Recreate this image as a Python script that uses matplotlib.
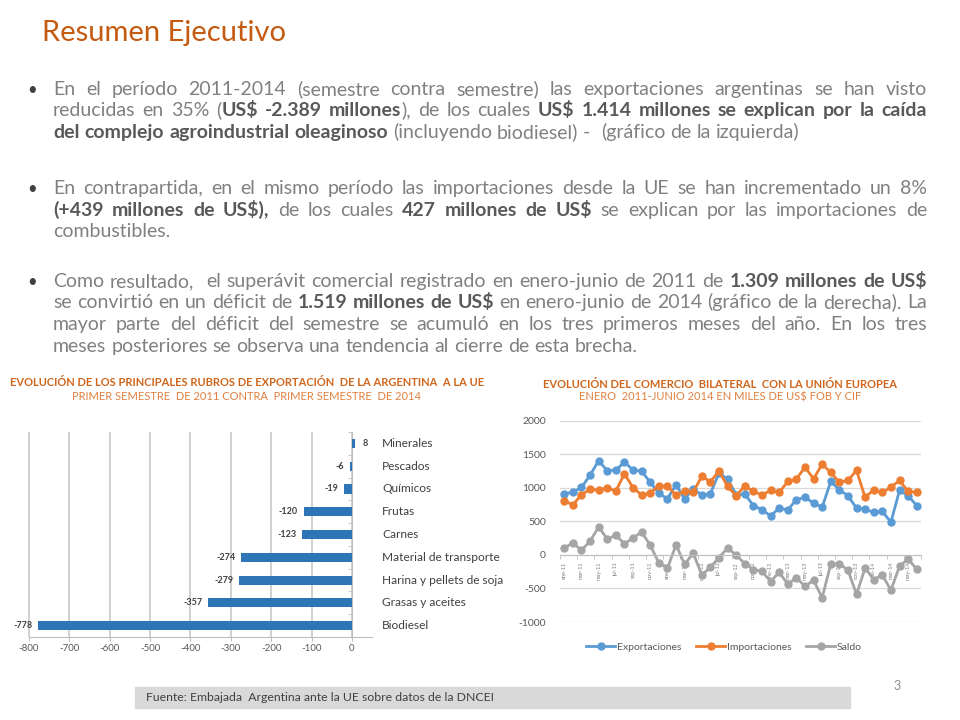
import numpy as np
import matplotlib
matplotlib.use('Agg')
import matplotlib.pyplot as plt
import matplotlib.transforms as mtransforms
from matplotlib.font_manager import FontProperties
from matplotlib.patches import Rectangle

plt.rcParams['font.family'] = ['Lato', 'DejaVu Sans']
plt.rcParams['axes.unicode_minus'] = False

# --- data: left chart (variation 1er sem 2011 vs 1er sem 2014, millones US$)
categories = ['Biodiesel', 'Grasas y aceites', 'Harina y pellets de soja',
              'Material de transporte', 'Carnes', 'Frutas', 'Químicos',
              'Pescados', 'Minerales']
variation = [-778, -357, -279, -274, -123, -120, -19, -6, 8]

# --- data: right chart (ene-2011 .. jun-2014, monthly)
month_labels = ['ene-11', 'mar-11', 'may-11', 'jul-11', 'sep-11', 'nov-11',
                'ene-12', 'mar-12', 'may-12', 'jul-12', 'sep-12', 'nov-12',
                'ene-13', 'mar-13', 'may-13', 'jul-13', 'sep-13', 'nov-13',
                'ene-14', 'mar-14', 'may-14']
exports = [910, 935, 1005, 1190, 1403, 1254, 1264, 1383, 1264, 1249, 1080, 920,
           836, 1045, 836, 985, 890, 915, 1219, 1129, 895, 905, 736, 672,
           582, 696, 672, 821, 861, 771, 711, 1094, 970, 881, 697, 682,
           632, 647, 488, 960, 881, 736]
imports = [808, 744, 900, 975, 968, 998, 952, 1210, 1000, 893, 922, 1032,
           1025, 888, 955, 938, 1170, 1092, 1250, 1020, 880, 1030, 945, 895,
           960, 930, 1094, 1129, 1308, 1134, 1353, 1229, 1085, 1109, 1259, 856,
           970, 930, 1010, 1109, 945, 930]
balance = [104, 179, 70, 204, 418, 234, 294, 164, 254, 338, 144, -119,
           -199, 149, -139, 25, -299, -184, -40, 104, -5, -129, -219, -244,
           -398, -259, -438, -338, -468, -378, -637, -139, -129, -229, -587, -194,
           -368, -299, -527, -169, -60, -214]

# --- slide text
paragraphs = [
    ["En el período 2011-2014 (semestre contra semestre) las exportaciones argentinas se han visto",
     "reducidas en 35% (**US$ -2.389 millones**), de los cuales **US$ 1.414 millones se explican por la caída**",
     "**del complejo agroindustrial oleaginoso** (incluyendo biodiesel) -  (gráfico de la izquierda)"],
    ["En contrapartida, en el mismo período las importaciones desde la UE se han incrementado un 8%",
     "**(+439 millones de US$),** de los cuales **427 millones de US$** se explican por las importaciones de",
     "combustibles."],
    ["Como resultado,  el superávit comercial registrado en enero-junio de 2011 de **1.309 millones de US$**",
     "se convirtió en un déficit de **1.519 millones de US$** en enero-junio de 2014 (gráfico de la derecha). La",
     "mayor parte del déficit del semestre se acumuló en los tres primeros meses del año. En los tres",
     "meses posteriores se observa una tendencia al cierre de esta brecha."],
]
para_top = [95, 194, 287]
line_step = 21.5

ORANGE = '#C55A11'
W, H = 960, 720
fig = plt.figure(figsize=(9.6, 7.2), dpi=100)
renderer = fig.canvas.get_renderer()


def fx(px):
    return px / W


def fy(py):
    return 1 - py / H


fig.text(fx(42), fy(33), 'Resumen Ejecutivo', fontsize=21, color=ORANGE, va='center')

# justified body text, word by word
BODY = 14
fp_norm = FontProperties(family='Lato', size=BODY)
fp_bold = FontProperties(family='Lato', size=BODY, weight='bold')
X0, X1 = 53, 927


def text_w(s, bold):
    w, h, d = renderer.get_text_width_height_descent(s, fp_bold if bold else fp_norm, ismath=False)
    return w


def split_words(line):
    # words are lists of (chunk, bold); a double space leaves an empty word
    words = [[]]
    for i, part in enumerate(line.split('**')):
        for j, piece in enumerate(part.split(' ')):
            if j > 0:
                words.append([])
            if piece:
                words[-1].append((piece, i % 2 == 1))
    while words and not words[0]:
        words.pop(0)
    while words and not words[-1]:
        words.pop()
    return words


def draw_line(line, y, justify):
    words = split_words(line)
    widths = [sum(text_w(t, b) for t, b in w) for w in words]
    if justify and len(words) > 1:
        gap = (X1 - X0 - sum(widths)) / (len(words) - 1)
    else:
        gap = text_w('a a', False) - text_w('aa', False)
    x = X0
    for w, wd in zip(words, widths):
        xx = x
        for t, b in w:
            fig.text(fx(xx), fy(round(y)), t, fontproperties=fp_bold if b else fp_norm,
                     color='#595959' if b else '#808080', va='baseline')
            xx += text_w(t, b)
        x += wd + gap


for para, top in zip(paragraphs, para_top):
    fig.text(fx(27), fy(top), '•', fontsize=12, color='#404040', va='baseline')
    for k, line in enumerate(para):
        draw_line(line, top + k * line_step, k < len(para) - 1)

# --- left chart titles
fig.text(fx(247), fy(383), 'EVOLUCIÓN DE LOS PRINCIPALES RUBROS DE EXPORTACIÓN  DE LA ARGENTINA  A LA UE',
         ha='center', va='center', fontsize=8, fontweight='bold', color='#D0661C')
fig.text(fx(247), fy(396.5), 'PRIMER SEMESTRE  DE 2011 CONTRA  PRIMER SEMESTRE  DE 2014',
         ha='center', va='center', fontsize=8, color='#E08040')

# --- left chart
axL = fig.add_axes([fx(10), fy(637), fx(503) - fx(10), fy(432) - fy(637)])
axL.patch.set_visible(False)
ypos = np.arange(len(categories))
axL.barh(ypos, variation, height=0.4, color='#2E75B6', zorder=3)
axL.set_xlim(-847, 374)
axL.set_ylim(-0.5, len(categories) - 0.5)
axL.set_xticks(range(-800, 1, 100))
axL.grid(axis='x', color='#D0D0D0', lw=1.4)
axL.set_axisbelow(True)
for s in ['top', 'right']:
    axL.spines[s].set_visible(False)
axL.spines['left'].set_position(('data', 0))
axL.spines['left'].set_color('#BFBFBF')
axL.spines['bottom'].set_color('#BFBFBF')
axL.spines['bottom'].set_bounds(-800, 50)
axL.set_yticks([])
axL.set_yticks(np.arange(-0.5, len(categories), 1), minor=True)
axL.tick_params(axis='y', which='minor', length=3, color='#BFBFBF')
axL.tick_params(axis='x', length=3, color='#BFBFBF', labelsize=7, labelcolor='#595959', pad=2)
for yi, v in zip(ypos, variation):
    axL.annotate(str(v), (v, yi), xytext=(-4 if v < 0 else 5, 0), textcoords='offset points',
                 ha='right' if v < 0 else 'left', va='center', fontsize=6.5,
                 fontweight='bold', color='#404040')
lab_tr = mtransforms.blended_transform_factory(axL.transAxes, axL.transData)
for yi, c in zip(ypos, categories):
    axL.text(0.7546, yi, c, transform=lab_tr, ha='left', va='center', fontsize=8.6,
             color='#404040', clip_on=True)

# --- right chart titles
fig.text(fx(720), fy(384), 'EVOLUCIÓN DEL COMERCIO  BILATERAL  CON LA UNIÓN EUROPEA',
         ha='center', va='center', fontsize=8, fontweight='bold', color='#D0661C')
fig.text(fx(720), fy(397), 'ENERO  2011-JUNIO 2014 EN MILES DE US$ FOB Y CIF',
         ha='center', va='center', fontsize=8, color='#E08040')

# --- right chart
axR = fig.add_axes([fx(560), fy(622), fx(921) - fx(560), fy(420.7) - fy(622)])
xs = np.arange(len(exports))
axR.plot(xs, exports, color='#5B9BD5', lw=2, marker='o', ms=5, label='Exportaciones')
axR.plot(xs, imports, color='#ED7D31', lw=2, marker='o', ms=5, label='Importaciones')
axR.plot(xs, balance, color='#A5A5A5', lw=2, marker='o', ms=5, label='Saldo')
axR.set_xlim(-0.5, len(exports) - 0.5)
axR.set_ylim(-1000, 2000)
axR.set_yticks(range(-1000, 2001, 500))
axR.grid(axis='y', color='#D9D9D9', lw=0.9)
axR.set_axisbelow(True)
for s in ['top', 'right', 'left']:
    axR.spines[s].set_visible(False)
axR.spines['bottom'].set_position(('data', 0))
axR.spines['bottom'].set_color('#BFBFBF')
axR.set_xticks(xs[::2])
axR.set_xticklabels(month_labels, rotation=90, fontsize=4, color='#7F7F7F')
axR.set_xticks(np.arange(-0.5, len(exports), 2), minor=True)
axR.tick_params(axis='x', which='major', length=0, pad=5)
axR.tick_params(axis='x', which='minor', length=3, color='#BFBFBF')
axR.tick_params(axis='y', length=0, pad=10, labelsize=7.5, labelcolor='#595959')
axR.legend(loc='center', bbox_to_anchor=(fx(724), fy(647)), bbox_transform=fig.transFigure,
           ncol=3, frameon=False, fontsize=7.5, labelcolor='#595959', handlelength=2.8,
           handletextpad=0.15, columnspacing=1.4)

# --- footer
fig.patches.append(Rectangle((fx(135), fy(708)), fx(850) - fx(135), (708 - 687) / H,
                             transform=fig.transFigure, color='#D9D9D9', zorder=0))
fig.text(fx(146), fy(697.5), 'Fuente: Embajada  Argentina ante la UE sobre datos de la DNCEI',
         fontsize=8.8, color='#404040', va='center')
fig.text(fx(897), fy(686), '3', fontsize=9, color='#8C8C8C', ha='center', va='center')

fig.savefig('out.png', dpi=100)
